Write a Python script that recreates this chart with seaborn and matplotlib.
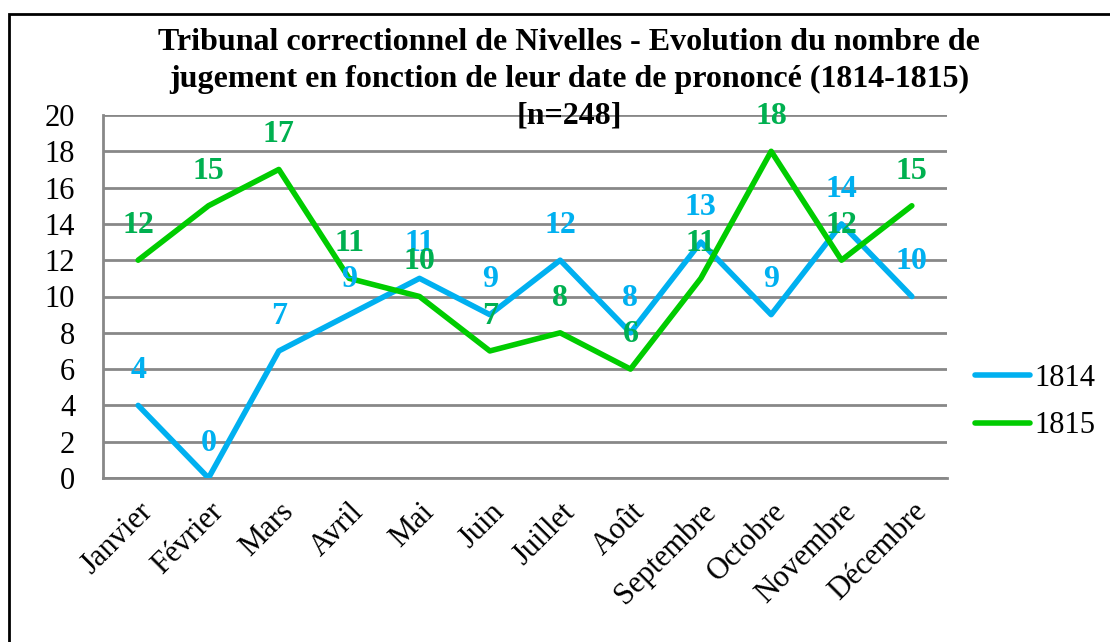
import numpy as np
import pandas as pd
import matplotlib
matplotlib.use("Agg")
import matplotlib.pyplot as plt
import seaborn as sns
from matplotlib.lines import Line2D
from matplotlib.patches import Rectangle

months = ["Janvier", "Février", "Mars", "Avril", "Mai", "Juin", "Juillet",
          "Août", "Septembre", "Octobre", "Novembre", "Décembre"]
values_1814 = [4, 0, 7, 9, 11, 9, 12, 8, 13, 9, 14, 10]
values_1815 = [12, 15, 17, 11, 10, 7, 8, 6, 11, 18, 12, 15]
series_names = ["1814", "1815"]
yticks = [0, 2, 4, 6, 8, 10, 12, 14, 16, 18, 20]

title_lines = ["Tribunal correctionnel de Nivelles - Evolution du nombre de",
               "jugement en fonction de leur date de prononcé (1814-1815)",
               "[n=248]"]

sns.set_theme(style="white")
plt.rcParams["font.family"] = ["Liberation Serif", "DejaVu Serif"]
plt.rcParams["text.color"] = "black"
plt.rcParams["xtick.color"] = "black"
plt.rcParams["ytick.color"] = "black"

line_colors = {"1814": "#00B0F0", "1815": "#00CC00"}
label_colors = {"1814": "#00B0F0", "1815": "#00B050"}

df = pd.DataFrame({
    "month": months * 2,
    "x": list(range(len(months))) * 2,
    "value": values_1814 + values_1815,
    "year": ["1814"] * len(months) + ["1815"] * len(months),
})

fig = plt.figure(figsize=(11.10, 6.42), dpi=100)
ax = fig.add_axes([103 / 1110, 1 - 478 / 642, (947 - 103) / 1110, (478 - 115) / 642])

sns.lineplot(data=df, x="x", y="value", hue="year", palette=line_colors,
             linewidth=4, ax=ax, legend=False, sort=False, zorder=3)

ax.set_xlim(-0.5, len(months) - 0.5)
ax.set_ylim(0, 20)
ax.set_yticks(yticks)
ax.set_yticklabels([str(v) for v in yticks], fontsize=22)
ax.set_xticks(range(len(months)))
ax.set_xticklabels(months, rotation=45, ha="right", rotation_mode="anchor",
                   fontsize=22)
ax.tick_params(axis="y", length=0, pad=20)
ax.tick_params(axis="x", length=0, pad=14)
ax.set_xlabel("")
ax.set_ylabel("")
ax.yaxis.grid(True, color="#888888", linewidth=2)
ax.xaxis.grid(False)
for s in ["top", "right"]:
    ax.spines[s].set_visible(False)
for s in ["left", "bottom"]:
    ax.spines[s].set_color("#888888")
    ax.spines[s].set_linewidth(2)

for name, vals in zip(series_names, [values_1814, values_1815]):
    for i, v in enumerate(vals):
        ax.annotate(str(v), (i, v), xytext=(0, 25), textcoords="offset points",
                    ha="center", va="center", fontsize=23, fontweight="bold",
                    color=label_colors[name], zorder=4)

for k, line in enumerate(title_lines):
    fig.text(0.513, 1 - (43 + 36.5 * k) / 642, line, ha="center", va="center",
             fontsize=23, fontweight="bold", zorder=5)

handles = [Line2D([0], [0], color=line_colors[n], linewidth=4,
                  solid_capstyle="round") for n in series_names]
fig.legend(handles, series_names, loc="center left",
           bbox_to_anchor=(975 / 1110, 1 - 402 / 642), frameon=False,
           fontsize=22, handlelength=1.8, handletextpad=0.15, labelspacing=0.62,
           borderpad=0, borderaxespad=0)

fig.patches.append(Rectangle((9 / 1110, -0.1), 1.2, 1 - 14 / 642 + 0.1,
                             transform=fig.transFigure, fill=False,
                             edgecolor="black", linewidth=2))

fig.savefig("out.png", dpi=100)
